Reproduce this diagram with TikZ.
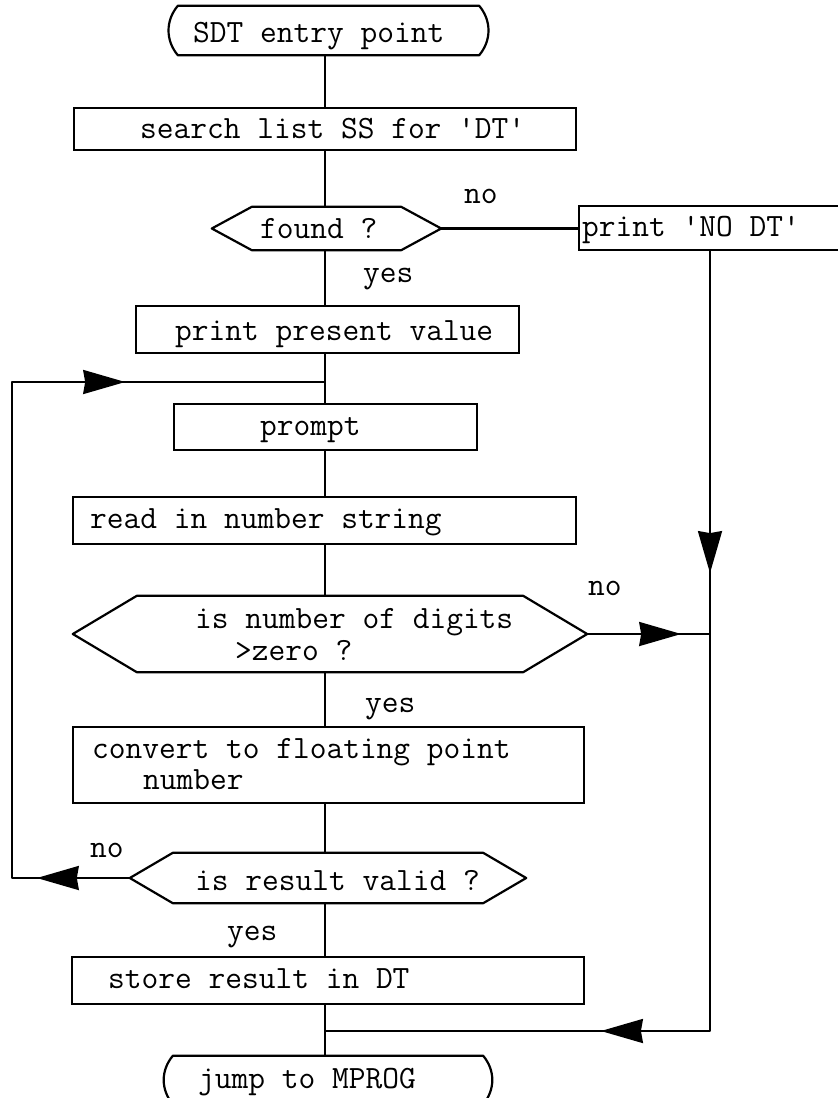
\documentclass[tikz,border=0pt]{standalone}
\usetikzlibrary{arrows.meta,decorations.markings}

\tikzset{
  flowline/.style={line width=2.2pt, line join=round},
  procbox/.style={rectangle, draw, line width=2.2pt, inner sep=0pt},
  frame/.style={rectangle, draw=none, inner sep=0pt},
  txt/.style={anchor=base west, inner sep=0pt, font=\fontsize{32.5}{38}\selectfont\ttfamily},
  bigtip/.tip={Stealth[length=42pt,width=24pt,inset=2pt]},
  tipat/.style={postaction={decorate, decoration={markings,
      mark=at position #1 with {\arrow{bigtip}}}}},
  tipsat/.style 2 args={postaction={decorate, decoration={markings,
      mark=at position #1 with {\arrow{bigtip}},
      mark=at position #2 with {\arrow{bigtip}}}}},
}

% outlines for the terminal and decision shapes, drawn on an invisible frame node
\newcommand\terminaloutline[1]{%
  \draw[flowline] ([xshift=8pt]#1.north west) -- ([xshift=-8pt]#1.north east)
    to[bend left=40] ([xshift=-8pt]#1.south east) -- ([xshift=8pt]#1.south west)
    to[bend left=40] ([xshift=8pt]#1.north west) -- cycle;}
\newcommand\decisionoutline[2]{%
  \draw[flowline] (#1.west) -- ([xshift=#2]#1.north west) -- ([xshift=-#2]#1.north east)
    -- (#1.east) -- ([xshift=-#2]#1.south east) -- ([xshift=#2]#1.south west) -- cycle;}

\begin{document}
\begin{tikzpicture}[x=1pt,y=-1pt]
\useasboundingbox (0,0) rectangle (838,1098);

% guide coordinates for the vertical runs
\coordinate (spine) at (325,0);
\coordinate (lrail) at (12,0);
\coordinate (rrail) at (710,0);
\coordinate (loopy) at (0,382);
\coordinate (mergey) at (0,1031);

% shapes
\node[frame, minimum width=317pt, minimum height=49pt] (start) at (328.5,30.5) {};
\terminaloutline{start}
\node[procbox, minimum width=502pt, minimum height=42pt] (search) at (325,129) {};
\node[frame, minimum width=229pt, minimum height=43pt] (found) at (326.5,228.5) {};
\decisionoutline{found}{40pt}
\node[procbox, minimum width=271pt, minimum height=44pt] (nodt) at (714.5,228) {};
\node[procbox, minimum width=383pt, minimum height=47pt] (present) at (327.5,329.5) {};
\node[procbox, minimum width=303pt, minimum height=46pt] (prompt) at (325.5,427) {};
\node[procbox, minimum width=503pt, minimum height=47pt] (readin) at (324.5,520.5) {};
\node[frame, minimum width=514pt, minimum height=76pt] (digits) at (330,634) {};
\decisionoutline{digits}{64pt}
\node[procbox, minimum width=511pt, minimum height=76pt] (convert) at (328.5,765) {};
\node[frame, minimum width=396pt, minimum height=50pt] (valid) at (328,878) {};
\decisionoutline{valid}{43pt}
\node[procbox, minimum width=512pt, minimum height=47pt] (store) at (328,980.5) {};
\node[frame, minimum width=326pt, minimum height=48pt] (jump) at (328,1080) {};
\terminaloutline{jump}

% texts
\node[txt] (tstart) at (193,42) {SDT entry point};
\node[txt] (tsearch) at (140,138) {search list SS for \textquotesingle DT\textquotesingle};
\node[txt] (tfound) at (260,238) {found ?};
\node[txt] (tnodt) at (582,236) {print \textquotesingle NO DT\textquotesingle};
\node[txt] (tpresent) at (175,340) {print present value};
\node[txt] (tprompt) at (260,435) {prompt};
\node[txt] (treadin) at (90,528) {read in number string};
\node[txt] (tdigitsa) at (195,628) {is number of digits};
\node[txt] (tdigitsb) at (235,660) {>zero ?};
\node[txt] (tconverta) at (92,758) {convert to floating point};
\node[txt] (tconvertb) at (143,789) {number};
\node[txt] (tvalid) at (195,890) {is result valid ?};
\node[txt] (tstore) at (108,988) {store result in DT};
\node[txt] (tjump) at (198,1088) {jump to MPROG};

% branch labels
\node[txt] (no1) at (464,203) {no};
\node[txt] (yes1) at (363,282) {yes};
\node[txt] (no2) at (588,595) {no};
\node[txt] (yes2) at (365,712) {yes};
\node[txt] (no3) at (90,857) {no};
\node[txt] (yes3) at (227,940) {yes};

% main flow
\draw[flowline] (start.south -| spine) -- (search.north -| spine);
\draw[flowline] (search.south -| spine) -- (found.north -| spine);
\draw[flowline] (found.south -| spine) -- (present.north -| spine);
\draw[flowline] (present.south -| spine) -- (prompt.north -| spine);
\draw[flowline] (prompt.south -| spine) -- (readin.north -| spine);
\draw[flowline] (readin.south -| spine) -- (digits.north -| spine);
\draw[flowline] (digits.south -| spine) -- (convert.north -| spine);
\draw[flowline] (convert.south -| spine) -- (valid.north -| spine);
\draw[flowline] (valid.south -| spine) -- (store.north -| spine);
\draw[flowline] (store.south -| spine) -- (jump.north -| spine);

% 'no' branches
\draw[flowline] (found.east) -- (found.east -| nodt.west);
\draw[flowline, tipsat={322pt}{889pt}]
  (nodt.south -| rrail) -- (rrail |- mergey) -- (spine |- mergey);
\draw[flowline, tipat=94pt] (digits.east) -- (digits.east -| rrail);
\draw[flowline, tipsat={93pt}{727pt}]
  (valid.west) -- (valid.west -| lrail) -- (lrail |- loopy) -- (spine |- loopy);
\end{tikzpicture}
\end{document}
